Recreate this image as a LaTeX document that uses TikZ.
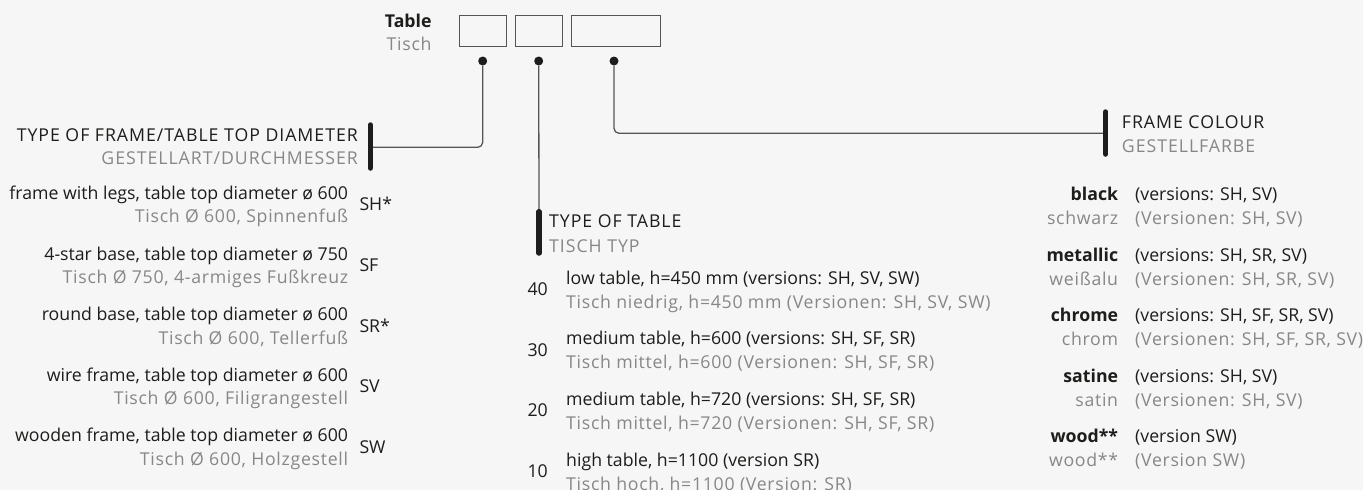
\documentclass[tikz,border=0pt]{standalone}
\usepackage{fontspec}
\setmainfont{Open Sans}
\usepackage{tikz}
\usetikzlibrary{positioning}
\definecolor{tbink}{RGB}{29,29,27}
\definecolor{tbgray}{RGB}{135,135,135}
\definecolor{tbline}{RGB}{85,85,85}
\definecolor{tbbg}{RGB}{245,246,245}

\begin{document}
\begin{tikzpicture}[x=1pt, y=-1pt,
  every node/.style={inner sep=0pt, font=\fontsize{17.7}{20}\selectfont},
  eng/.style={text=tbink},
  ger/.style={text=tbgray, font=\fontsize{17.7}{20}\selectfont\addfontfeatures{LetterSpace=4}},
  head/.style={font=\fontsize{17.7}{20}\selectfont\addfontfeatures{LetterSpace=5.5}},
  bold/.style={text=tbink, anchor=base east, font=\fontsize{17.7}{20}\selectfont\bfseries},
  vcode/.style={text=tbink, anchor=base west},
  slot/.style={draw=tbline, line width=1.3pt, minimum height=31.3pt, anchor=north west},
  knob/.style={circle, fill=tbink, minimum size=9pt},
  wire/.style={draw=tbline, line width=1.3pt, rounded corners=5pt},
  capbar/.style={draw=tbink, line width=5.5pt, line cap=round}
]
  \fill[tbbg] (0,0) rectangle (1363,490);
  \useasboundingbox (0,0) rectangle (1363,490);

  % order code
  \node[bold] (table) at (431.7,27.3) {Table};
  \node[ger, anchor=base east] (tisch) at (431.7,50.7) {Tisch};
  \node[slot, minimum width=47pt] (box1) at (458.7,14.7) {};
  \node[slot, minimum width=47pt] (box2) at (515,14.7) {};
  \node[slot, minimum width=88.7pt] (box3) at (571,14.7) {};
  \node[knob] (d1) at (482.7,61) {};
  \node[knob] (d2) at (538.7,61) {};
  \node[knob] (d3) at (614,61) {};

  % bars
  \coordinate (b1t) at (370.3,125);   \coordinate (b1b) at (370.3,168);   \coordinate (b1) at (370.3,147.3);
  \coordinate (b2t) at (539,211.7);   \coordinate (b2b) at (539,253);
  \coordinate (b3t) at (1105.7,112);  \coordinate (b3b) at (1105.7,154); \coordinate (b3) at (1105.7,133.3);
  \draw[wire] (d1) |- (b1);
  \draw[wire] (d2) -- (b2t);
  \draw[wire] (d3) |- (b3);
  \draw[capbar] (b1t) -- (b1b);
  \draw[capbar] (b2t) -- (b2b);
  \draw[capbar] (b3t) -- (b3b);

  % heads
  \node[eng, head, anchor=base east] (framehead) at (358,141) {TYPE OF FRAME/TABLE TOP DIAMETER};
  \node[ger, head, anchor=base east] (frameheadde) at (358,164.3) {GESTELLART/DURCHMESSER};
  \node[eng, head, anchor=base west] (typehead) at (549,227.7) {TYPE OF TABLE};
  \node[ger, head, anchor=base west] (typeheadde) at (549,252.7) {TISCH TYP};
  \node[eng, head, anchor=base west] (colourhead) at (1121.7,128.3) {FRAME COLOUR};
  \node[ger, head, anchor=base west] (colourheadde) at (1121.7,152.7) {GESTELLFARBE};

  % frames
  \node[eng, anchor=base east] (sh) at (348.3,199) {frame with legs, table top diameter ø 600};
  \node[ger, anchor=base east] (shde) at (348.3,222.7) {Tisch Ø 600, Spinnenfuß};
  \node[vcode] (shc) at (359.3,210.7) {SH*};
  \node[eng, anchor=base east] (sf) at (348.3,260) {4-star base, table top diameter ø 750};
  \node[ger, anchor=base east] (sfde) at (348.3,283.7) {Tisch Ø 750, 4-armiges Fußkreuz};
  \node[vcode] (sfc) at (359.3,271.7) {SF};
  \node[eng, anchor=base east] (sr) at (348.3,320.7) {round base, table top diameter ø 600};
  \node[ger, anchor=base east] (srde) at (348.3,344.4) {Tisch Ø 600, Tellerfuß};
  \node[vcode] (src) at (359.3,332.4) {SR*};
  \node[eng, anchor=base east] (sv) at (348.3,381) {wire frame, table top diameter ø 600};
  \node[ger, anchor=base east] (svde) at (348.3,404.7) {Tisch Ø 600, Filigrangestell};
  \node[vcode] (svc) at (359.3,392.7) {SV};
  \node[eng, anchor=base east] (sw) at (348.3,441.7) {wooden frame, table top diameter ø 600};
  \node[ger, anchor=base east] (swde) at (348.3,465.4) {Tisch Ø 600, Holzgestell};
  \node[vcode] (swc) at (359.3,453.4) {SW};

  % table types
  \node[vcode] (t40) at (527.3,295.7) {40};
  \node[eng, anchor=base west] (t40en) at (566,284) {low table, h=450 mm (versions: SH, SV, SW)};
  \node[ger, anchor=base west] (t40de) at (566,308.3) {Tisch niedrig, h=450 mm (Versionen: SH, SV, SW)};
  \node[vcode] (t30) at (527.3,356.2) {30};
  \node[eng, anchor=base west] (t30en) at (566,344.5) {medium table, h=600 (versions: SH, SF, SR)};
  \node[ger, anchor=base west] (t30de) at (566,368.8) {Tisch mittel, h=600 (Versionen: SH, SF, SR)};
  \node[vcode] (t20) at (527.3,416.7) {20};
  \node[eng, anchor=base west] (t20en) at (566,405) {medium table, h=720 (versions: SH, SF, SR)};
  \node[ger, anchor=base west] (t20de) at (566,429.3) {Tisch mittel, h=720 (Versionen: SH, SF, SR)};
  \node[vcode] (t10) at (527.3,477.7) {10};
  \node[eng, anchor=base west] (t10en) at (566,466) {high table, h=1100 (version SR)};
  \node[ger, anchor=base west] (t10de) at (566,490.3) {Tisch hoch, h=1100 (Version: SR)};

  % colours
  \node[bold] (black) at (1118.3,200) {black};
  \node[ger, anchor=base east] (blackde) at (1118.3,224) {schwarz};
  \node[eng, anchor=base west] (blackv) at (1135,200) {(versions: SH, SV)};
  \node[ger, anchor=base west] (blackvde) at (1135,224) {(Versionen: SH, SV)};
  \node[bold] (metal) at (1118.3,261) {metallic};
  \node[ger, anchor=base east] (metalde) at (1118.3,285) {weißalu};
  \node[eng, anchor=base west] (metalv) at (1135,261) {(versions: SH, SR, SV)};
  \node[ger, anchor=base west] (metalvde) at (1135,285) {(Versionen: SH, SR, SV)};
  \node[bold] (chrome) at (1118.3,321.7) {chrome};
  \node[ger, anchor=base east] (chromede) at (1118.3,345.7) {chrom};
  \node[eng, anchor=base west] (chromev) at (1135,321.7) {(versions: SH, SF, SR, SV)};
  \node[ger, anchor=base west] (chromevde) at (1135,345.7) {(Versionen: SH, SF, SR, SV)};
  \node[bold] (satine) at (1118.3,382.3) {satine};
  \node[ger, anchor=base east] (satinede) at (1118.3,406.3) {satin};
  \node[eng, anchor=base west] (satinev) at (1135,382.3) {(versions: SH, SV)};
  \node[ger, anchor=base west] (satinevde) at (1135,406.3) {(Versionen: SH, SV)};
  \node[bold] (wood) at (1118.3,442.7) {wood**};
  \node[ger, anchor=base east] (woodde) at (1118.3,466.7) {wood**};
  \node[eng, anchor=base west] (woodv) at (1135,442.7) {(version SW)};
  \node[ger, anchor=base west] (woodvde) at (1135,466.7) {(Version SW)};
\end{tikzpicture}
\end{document}
